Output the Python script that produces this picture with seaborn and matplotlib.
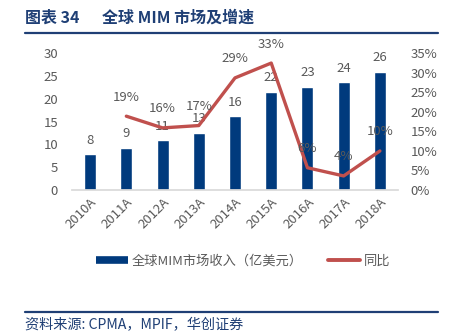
import numpy as np
import pandas as pd
import seaborn as sns
import matplotlib
matplotlib.use("Agg")
import matplotlib.pyplot as plt
from matplotlib.lines import Line2D

years = ["2010A", "2011A", "2012A", "2013A", "2014A", "2015A", "2016A", "2017A", "2018A"]
revenue = [7.8, 9.3, 10.9, 12.6, 16.2, 21.5, 22.7, 23.6, 25.9]
revenue_labels = ["8", "9", "11", "13", "16", "22", "23", "24", "26"]
growth = [np.nan, 18.9, 15.9, 16.5, 28.7, 32.5, 5.7, 3.6, 10.0]
growth_labels = ["", "19%", "16%", "17%", "29%", "33%", "6%", "4%", "10%"]
left_ticks = [0, 5, 10, 15, 20, 25, 30]
right_ticks = [0, 5, 10, 15, 20, 25, 30, 35]
title_a = "图表 34"
title_b = "全球 MIM 市场及增速"
source = "资料来源: CPMA，MPIF，华创证券"
bar_name = "全球MIM市场收入（亿美元）"
line_name = "同比"

sns.set_theme(style="white")
plt.rcParams['font.family'] = ['Noto Sans CJK SC', 'DejaVu Sans']

NAVY = "#003A7D"
RED = "#C0504D"
GRAY = "#595959"
TITLE_BLUE = "#1F3F75"

W, H = 453, 333
fig = plt.figure(figsize=(W / 100, H / 100), dpi=100)
ax = fig.add_axes([72 / W, 1 - 190 / H, 326 / W, (190 - 53.3) / H])

df = pd.DataFrame({"year": years, "rev": revenue})
sns.barplot(data=df, x="year", y="rev", color=NAVY, width=0.33, ax=ax,
            saturation=1, order=years)
ax.set_ylim(0, 30)
ax.set_yticks(left_ticks)
ax.set_xlim(-0.5, len(years) - 0.5)
ax.set_xlabel("")
ax.set_ylabel("")
for i, (v, lab) in enumerate(zip(revenue, revenue_labels)):
    ax.annotate(lab, (i, v), xytext=(0, 5.5), textcoords="offset points",
                ha="center", va="bottom", fontsize=9.5, color=GRAY)

ax2 = ax.twinx()
pos = np.arange(len(years))
sns.lineplot(x=pos, y=growth, color=RED, linewidth=2.4, ax=ax2)
ax2.set_ylim(0, 35)
ax2.set_yticks(right_ticks)
ax2.set_yticklabels([f"{t}%" for t in right_ticks])
for i, (v, lab) in enumerate(zip(growth, growth_labels)):
    if lab:
        ax2.annotate(lab, (i, v), xytext=(0, 9), textcoords="offset points",
                     ha="center", va="bottom", fontsize=9.5, color=GRAY)

for a in (ax, ax2):
    for s in a.spines.values():
        s.set_visible(False)
    a.tick_params(length=0, labelsize=9.5, labelcolor=GRAY)
    a.grid(False)
ax.spines["bottom"].set_visible(True)
ax.spines["bottom"].set_color("#D9D9D9")
ax.tick_params(axis="y", pad=10)
ax2.tick_params(axis="y", pad=9)
ax.set_xticks(range(len(years)))
ax.set_xticklabels(years, rotation=45, ha="right", rotation_mode="anchor")
ax.tick_params(axis="x", pad=4)

# legend
handles = [Line2D([0], [0], color=NAVY, lw=5.5, solid_capstyle="butt"),
           Line2D([0], [0], color=RED, lw=2.8, solid_capstyle="round")]
fig.legend(handles, [bar_name, line_name], loc="center",
           bbox_to_anchor=(243 / W, 1 - 261 / H), ncol=2, frameon=False,
           fontsize=9.5, labelcolor=GRAY, handlelength=2.4,
           handletextpad=0.3, columnspacing=1.9)

# title and rules
fig.text(25 / W, 1 - 18 / H, title_a, fontsize=11.5, fontweight="bold",
         color=TITLE_BLUE, va="center", ha="left")
fig.text(102 / W, 1 - 18 / H, title_b, fontsize=11.5, fontweight="bold",
         color=TITLE_BLUE, va="center", ha="left")
fig.add_artist(Line2D([25 / W, 438 / W], [1 - 33 / H, 1 - 33 / H],
                      color=TITLE_BLUE, lw=1.6, transform=fig.transFigure))
fig.add_artist(Line2D([25 / W, 438 / W], [1 - 311.5 / H, 1 - 311.5 / H],
                      color=TITLE_BLUE, lw=1.6, transform=fig.transFigure))
fig.text(25 / W, 1 - 325 / H, source, fontsize=10.2, style="italic",
         color=TITLE_BLUE, va="center", ha="left")

fig.savefig("out.png", dpi=100, facecolor="white")
